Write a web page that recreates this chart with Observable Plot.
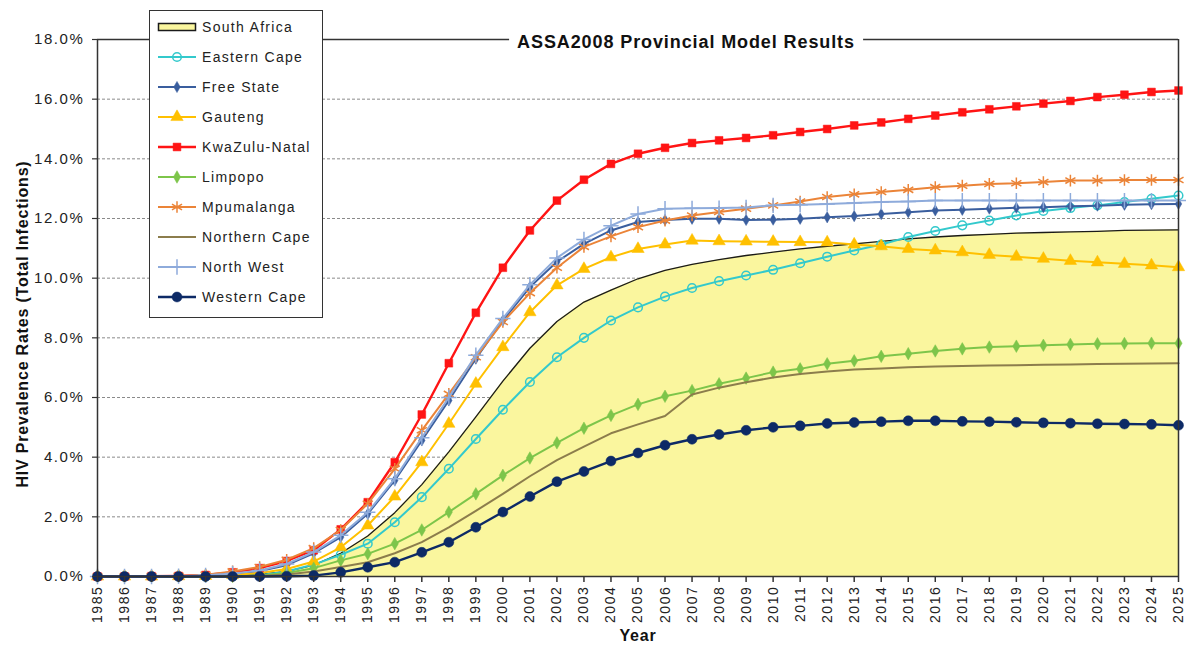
<!DOCTYPE html>
<html>
<head>
<meta charset="utf-8">
<script src="https://cdn.jsdelivr.net/npm/d3@7"></script>
<script src="https://cdn.jsdelivr.net/npm/@observablehq/plot@0.6"></script>
<style>
  body { margin: 0; background: #fff; font-family: "Liberation Sans", Arial, sans-serif; }
  #wrap { position: relative; width: 1186px; height: 653px; overflow: hidden; }
  #title { position: absolute; left: 686px; top: 31px; transform: translateX(-50%); background: #fff;
           padding: 0 8px; font: bold 18px "Liberation Sans", Arial, sans-serif; letter-spacing: 0.9px;
           color: #111; white-space: nowrap; line-height: 22px; }
  #legend { position: absolute; left: 149px; top: 10px; width: 172px; height: 306px; background: #fff;
            border: 1.5px solid #333; box-sizing: content-box; }
  .row { position: absolute; left: 0; height: 20px; display: flex; align-items: center; }
  .row svg { margin-left: 7px; }
  .row span { margin-left: 5px; font-size: 14px; letter-spacing: 1.3px; color: #222; white-space: nowrap; }
  g[aria-label$="tick label"] text { letter-spacing: 1.6px; }
</style>
</head>
<body>
<div id="wrap"></div>
<script>
// ---------------- data ----------------
const years = [1985,1986,1987,1988,1989,1990,1991,1992,1993,1994,1995,1996,1997,1998,1999,2000,
  2001,2002,2003,2004,2005,2006,2007,2008,2009,2010,2011,2012,2013,2014,2015,2016,2017,2018,2019,
  2020,2021,2022,2023,2024,2025];

const southAfrica  = [0,0,0,0,0.01,0.03,0.07,0.17,0.38,0.78,1.36,2.14,3.08,4.18,5.35,6.55,7.65,8.55,9.2,9.6,9.98,10.26,10.46,10.62,10.76,10.87,10.98,11.07,11.15,11.23,11.32,11.38,11.43,11.47,11.51,11.53,11.55,11.57,11.6,11.61,11.62];
const easternCape  = [0,0,0,0,0,0.01,0.04,0.17,0.4,0.73,1.1,1.82,2.66,3.61,4.61,5.59,6.52,7.35,8.0,8.58,9.02,9.38,9.67,9.9,10.09,10.28,10.5,10.72,10.93,11.13,11.38,11.58,11.77,11.93,12.1,12.25,12.35,12.44,12.55,12.66,12.77];
const freeState    = [0,0,0,0.01,0.03,0.08,0.18,0.38,0.78,1.32,2.1,3.22,4.56,5.9,7.3,8.58,9.7,10.55,11.15,11.6,11.88,11.95,11.99,11.99,11.95,11.96,11.99,12.04,12.08,12.15,12.21,12.27,12.29,12.33,12.36,12.38,12.41,12.43,12.46,12.48,12.49];
const gauteng      = [0,0,0,0.01,0.02,0.05,0.12,0.25,0.5,0.98,1.71,2.68,3.83,5.12,6.46,7.69,8.86,9.76,10.31,10.7,10.98,11.13,11.26,11.24,11.23,11.22,11.21,11.2,11.13,11.07,10.98,10.93,10.87,10.78,10.72,10.65,10.58,10.53,10.48,10.43,10.37];
const kwazuluNatal = [0,0,0.01,0.02,0.05,0.14,0.28,0.52,0.88,1.58,2.49,3.83,5.43,7.15,8.84,10.35,11.6,12.6,13.3,13.83,14.17,14.37,14.53,14.62,14.7,14.79,14.9,15.0,15.12,15.22,15.34,15.45,15.56,15.66,15.76,15.85,15.94,16.07,16.15,16.24,16.29];
const limpopo      = [0,0,0,0,0,0,0.03,0.12,0.28,0.54,0.76,1.1,1.56,2.16,2.77,3.39,3.97,4.48,4.97,5.4,5.77,6.04,6.23,6.46,6.65,6.85,6.96,7.13,7.23,7.38,7.47,7.56,7.63,7.69,7.72,7.75,7.78,7.8,7.81,7.82,7.82];
const mpumalanga   = [0,0,0.01,0.02,0.06,0.17,0.32,0.56,0.95,1.56,2.44,3.61,4.9,6.12,7.35,8.53,9.5,10.35,11.05,11.4,11.71,11.93,12.1,12.22,12.33,12.44,12.57,12.72,12.81,12.89,12.96,13.05,13.1,13.16,13.18,13.22,13.27,13.27,13.29,13.29,13.29];
const northernCape = [0,0,0,0,0,0,0.02,0.07,0.17,0.32,0.48,0.78,1.15,1.65,2.2,2.77,3.36,3.9,4.35,4.8,5.1,5.38,6.1,6.33,6.51,6.67,6.79,6.87,6.94,6.97,7.01,7.04,7.06,7.07,7.08,7.1,7.11,7.12,7.13,7.14,7.15];
const northWest    = [0,0,0,0.01,0.04,0.1,0.2,0.42,0.82,1.38,2.15,3.28,4.65,6.0,7.42,8.65,9.78,10.68,11.3,11.76,12.15,12.33,12.34,12.35,12.37,12.44,12.46,12.49,12.52,12.55,12.57,12.6,12.6,12.6,12.6,12.6,12.6,12.6,12.6,12.6,12.6];
const westernCape  = [0,0,0,0,0,0,0,0.01,0.03,0.14,0.31,0.48,0.81,1.15,1.65,2.16,2.68,3.18,3.52,3.87,4.14,4.4,4.6,4.76,4.9,5.0,5.05,5.13,5.16,5.19,5.22,5.22,5.2,5.19,5.17,5.15,5.14,5.12,5.11,5.1,5.07];

const seriesNames = ["South Africa","Eastern Cape","Free State","Gauteng","KwaZulu-Natal","Limpopo",
  "Mpumalanga","Northern Cape","North West","Western Cape"];
const seriesValues = [southAfrica, easternCape, freeState, gauteng, kwazuluNatal, limpopo,
  mpumalanga, northernCape, northWest, westernCape];
const yTicks = [0,2,4,6,8,10,12,14,16,18];
const gridValues = [2,4,6,8,10,12,14,16];
const titleText = "ASSA2008  Provincial Model Results";
const yTitle = "HIV Prevalence Rates (Total Infections)";
const xTitle = "Year";

// ---------------- styles ----------------
const styles = {
  "Eastern Cape":  {color: "#33C9CC", symbol: "circle",   r: 4.3, hollow: true,  sw: 2},
  "Free State":    {color: "#3A5E9E", symbol: "diamond",  r: 3.4, hollow: false, sw: 2},
  "Gauteng":       {color: "#FFC000", symbol: "triangle", r: 4.6, hollow: false, sw: 2},
  "KwaZulu-Natal": {color: "#FF1414", symbol: "square",   r: 4.4, hollow: false, sw: 2.4},
  "Limpopo":       {color: "#7DC54A", symbol: "diamond",  r: 3.8, hollow: false, sw: 2},
  "Mpumalanga":    {color: "#EB8438", symbol: "asterisk", r: 5.5, hollow: true,  sw: 2},
  "Northern Cape": {color: "#8C7D4C", symbol: null,       r: 0,   hollow: false, sw: 2},
  "North West":    {color: "#8EABDB", symbol: "plus",     r: 5,   hollow: true,  sw: 2},
  "Western Cape":  {color: "#0D2A66", symbol: "circle",   r: 5,   hollow: false, sw: 2.4}
};
const areaFill = "#FAF69E";

const table = seriesNames.map((name, k) => years.map((year, i) => ({series: name, year, value: seriesValues[k][i]})));

const marks = [
  Plot.ruleY(gridValues, {stroke: "#8a8a8a", strokeDasharray: "3,2", strokeWidth: 1}),
  Plot.areaY(table[0], {x: "year", y: "value", fill: areaFill}),
  Plot.lineY(table[0], {x: "year", y: "value", stroke: "#1a1a1a", strokeWidth: 1.3})
];
for (let k = 1; k < seriesNames.length; k++) {
  const s = styles[seriesNames[k]];
  marks.push(Plot.lineY(table[k], {x: "year", y: "value", stroke: s.color, strokeWidth: s.sw}));
  if (s.symbol) {
    if (s.hollow) {
      marks.push(Plot.dot(table[k], {x: "year", y: "value", symbol: s.symbol, r: s.r, fill: "none", stroke: s.color, strokeWidth: 1.5}));
    } else {
      marks.push(Plot.dot(table[k], {x: "year", y: "value", symbol: s.symbol, r: s.r, fill: s.color, stroke: s.color, strokeWidth: 0.5}));
    }
  }
}
marks.push(
  Plot.ruleY([18], {stroke: "#333", strokeWidth: 1.5}),
  Plot.ruleX([2025], {stroke: "#333", strokeWidth: 1.5}),
  Plot.ruleX([1985], {stroke: "#333", strokeWidth: 1.5}),
  Plot.ruleY([0], {stroke: "#333", strokeWidth: 1.5}),
  Plot.axisX({ticks: years, tickFormat: d => String(d), tickRotate: -90, tickSize: 6, tickPadding: 3,
              fontSize: 14, label: null, stroke: "#333", strokeWidth: 1.5}),
  Plot.axisY({ticks: yTicks, tickFormat: d => d.toFixed(1) + "%", tickSize: 5, tickPadding: 8,
              fontSize: 15, label: null, stroke: "#333", strokeWidth: 1.2}),
  Plot.text([yTitle], {frameAnchor: "left", textAnchor: "middle", rotate: -90, dx: -75, dy: 16, fontSize: 16,
              fontWeight: "bold", fill: "#111"}),
  Plot.text([xTitle], {frameAnchor: "bottom", textAnchor: "middle", dy: 64, fontSize: 16, fontWeight: "bold", fill: "#111"})
);

const chart = Plot.plot({
  width: 1186, height: 653,
  marginLeft: 97, marginRight: 8, marginTop: 39, marginBottom: 77,
  x: {domain: [1985, 2025]},
  y: {domain: [0, 18]},
  style: {fontFamily: '"Liberation Sans", Arial, sans-serif', color: "#222", background: "#fff", overflow: "visible"},
  marks
});
d3.select(chart).selectAll('g[aria-label="text"] text').style("letter-spacing", "0.8px");

const wrap = document.getElementById("wrap");
wrap.appendChild(chart);

// title
const title = document.createElement("div");
title.id = "title";
title.textContent = titleText;
wrap.appendChild(title);

// legend
const legend = d3.select(wrap).append("div").attr("id", "legend");
const symbolMap = {circle: d3.symbolCircle, diamond: d3.symbolDiamond, triangle: d3.symbolTriangle,
  square: d3.symbolSquare, asterisk: d3.symbolAsterisk, plus: d3.symbolPlus};
seriesNames.forEach((name, k) => {
  const row = legend.append("div").attr("class", "row").style("top", (6 + k * 30) + "px");
  const svg = row.append("svg").attr("width", 40).attr("height", 16);
  if (k === 0) {
    svg.append("rect").attr("x", 1.5).attr("y", 4.5).attr("width", 37).attr("height", 7)
      .attr("fill", areaFill).attr("stroke", "#1a1a1a").attr("stroke-width", 1.5);
  } else {
    const s = styles[name];
    svg.append("line").attr("x1", 1).attr("x2", 39).attr("y1", 8).attr("y2", 8)
      .attr("stroke", s.color).attr("stroke-width", s.sw);
    if (s.symbol) {
      svg.append("path").attr("transform", "translate(20,8)")
        .attr("d", d3.symbol(symbolMap[s.symbol], Math.PI * s.r * s.r)())
        .attr("fill", s.hollow ? "#fff" : s.color)
        .attr("fill-opacity", s.hollow ? 0 : 1)
        .attr("stroke", s.color).attr("stroke-width", s.hollow ? 1.5 : 0.5);
    }
  }
  row.append("span").text(name);
});
</script>
</body>
</html>
